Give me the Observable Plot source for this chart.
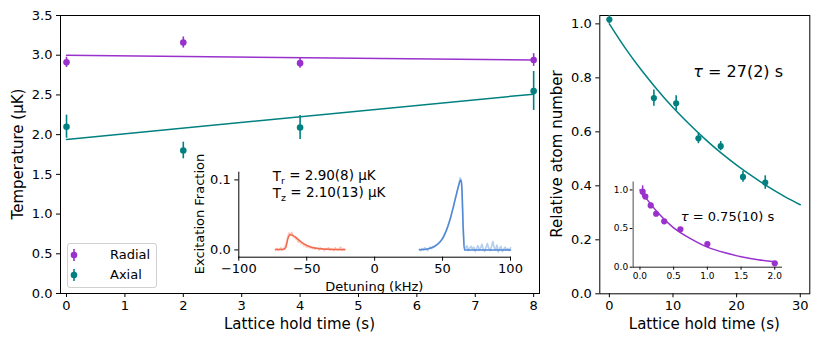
<!DOCTYPE html>
<html><head><meta charset="utf-8">
<script src="https://cdn.jsdelivr.net/npm/d3@7"></script>
<script src="https://cdn.jsdelivr.net/npm/@observablehq/plot@0.6"></script>
<style>
body{margin:0;background:#fff;font-family:"DejaVu Sans",sans-serif;}
#wrap{position:relative;width:822px;height:343px;overflow:hidden;background:#fff;}
#wrap svg{position:absolute;left:0;top:0;}
.lbl{position:absolute;white-space:nowrap;color:#000;font-family:"DejaVu Sans",sans-serif;line-height:1;}
.legend{position:absolute;left:67px;top:243px;width:88px;height:43px;border:1px solid #d0d0d0;border-radius:3px;background:rgba(255,255,255,0.85);font-family:"DejaVu Sans",sans-serif;font-size:13px;}
.legend .row{position:absolute;left:0;height:20px;width:88px;}
.legend svg{position:absolute;left:13px;top:0;}
.legend span{position:absolute;left:42px;top:2px;}
</style></head><body><div id="wrap"></div>
<script>
// ---------- Left panel: temperatures ----------
const holdTimes = [0, 2, 4, 8];
const radialTemp = [2.91, 3.16, 2.90, 2.94];
const radialErr = [0.065, 0.07, 0.065, 0.08];
const axialTemp = [2.10, 1.80, 2.09, 2.55];
const axialErr = [0.145, 0.105, 0.15, 0.245];
const fitTimes = [0, 8];
const radialFit = [3.00, 2.94];
const axialFit = [1.94, 2.51];
const leftXTicks = [0, 1, 2, 3, 4, 5, 6, 7, 8];
const leftYTicks = [0, 0.5, 1, 1.5, 2, 2.5, 3, 3.5];

// ---------- Left inset: sideband spectra ----------
const redFreq = [-73,-72,-71,-70,-69,-68,-67,-66,-65,-64,-63,-62,-61,-60,-59,-58,-57,-56,-55,-54,-53,-52,-51,-50,-49,-48,-47,-46,-45,-44,-43,-42,-41,-40,-39,-38,-37,-36,-35,-34,-33,-32,-31,-30,-29,-28,-27,-26,-25,-24,-23,-22];
const redData = [0.000,0.002,-0.001,0.001,0.003,0.000,0.002,0.004,0.010,0.018,0.024,0.022,0.025,0.019,0.018,0.016,0.015,0.011,0.013,0.009,0.010,0.006,0.008,0.004,0.006,0.003,0.005,0.002,0.004,0.001,0.003,0.002,0.000,0.003,0.001,0.002,-0.001,0.002,0.001,0.003,0.000,0.002,0.001,-0.001,0.003,0.001,0.000,0.002,0.004,0.000,0.002,0.001];
const redFitFreq = [-73,-68,-66,-65,-64,-63,-62,-60,-58,-55,-52,-50,-47,-45,-40,-35,-30,-22];
const redFit = [0.0005,0.0006,0.002,0.006,0.015,0.020,0.0215,0.0205,0.018,0.013,0.0085,0.0065,0.004,0.003,0.0015,0.0008,0.0005,0.0003];
const blueFreq = [33,34,35,36,37,38,39,40,41,42,43,44,45,46,47,48,49,50,51,52,53,54,55,56,57,58,59,60,61,62,63,64,65,66,67,68,69,70,71,72,73,74,75,76,77,78,79,80,81,82,83,84,85,86,87,88,89,90,91,92,93,94,95,96,97,98,99,100];
const blueData = [0.001,-0.001,0.002,0.000,0.003,0.001,-0.001,0.002,0.004,0.002,0.005,0.004,0.007,0.008,0.010,0.012,0.014,0.017,0.021,0.025,0.029,0.035,0.041,0.046,0.055,0.061,0.071,0.078,0.086,0.094,0.103,0.097,0.040,0.004,0.002,0.006,-0.001,0.003,0.005,0.001,0.004,-0.002,0.002,0.006,0.000,0.003,0.008,0.001,-0.002,0.004,0.009,0.002,-0.001,0.005,0.012,0.003,0.000,0.007,-0.003,0.002,0.005,-0.002,0.001,0.004,0.000,0.002,-0.001,0.003];
const blueFitFreq = [33,38,42,45,48,50,52,54,56,58,60,62,63,63.6,64.3,65.2,66,70,100];
const blueFit = [0.0003,0.001,0.003,0.006,0.011,0.016,0.024,0.034,0.047,0.062,0.078,0.093,0.099,0.100,0.085,0.030,0.000,0.000,0.000];
const insetXTicks = [-100, -50, 0, 50, 100];
const insetYTicks = [0, 0.1];

// ---------- Right panel: atom number ----------
const lossTimes = [0, 7, 10.5, 14, 17.5, 21, 24.5];
const atomNumber = [1.016, 0.725, 0.706, 0.576, 0.547, 0.433, 0.412];
const atomErr = [0.015, 0.03, 0.028, 0.02, 0.017, 0.02, 0.025];
const lossFitTimes = [0, 2.5, 5, 7.5, 10, 12.5, 15, 17.5, 20, 22.5, 25, 27.5, 30];
const lossFit = [1.0, 0.91, 0.83, 0.757, 0.69, 0.63, 0.574, 0.523, 0.477, 0.435, 0.396, 0.361, 0.33];
const rightXTicks = [0, 10, 20, 30];
const rightYTicks = [0, 0.2, 0.4, 0.6, 0.8, 1.0];

// ---------- Right inset: fast decay ----------
const fastTimes = [0.04, 0.08, 0.16, 0.24, 0.36, 0.6, 1.0, 2.0];
const fastNumber = [0.978, 0.914, 0.80, 0.692, 0.594, 0.491, 0.299, 0.051];
const fastErr = [0.075, 0.03, 0.03, 0.025, 0.02, 0.015, 0.015, 0.01];
const fastFitTimes = [0, 0.25, 0.5, 0.75, 1.0, 1.25, 1.5, 1.75, 2.0];
const fastFit = [1.0, 0.72, 0.51, 0.37, 0.26, 0.19, 0.135, 0.097, 0.07];
const fastXTicks = [0, 0.5, 1, 1.5, 2];
const fastYTicks = [0, 0.5, 1];

const purple = "#9932CC", teal = "#008080", redC = "#f2694e", blueC = "#5088d4";

const zip = (keys, ...arrs) => arrs[0].map((_, i) => Object.fromEntries(keys.map((k, j) => [k, arrs[j][i]])));
const radialRows = zip(["t","v","e"], holdTimes, radialTemp, radialErr);
const axialRows = zip(["t","v","e"], holdTimes, axialTemp, axialErr);
const fitRows = zip(["t","r","a"], fitTimes, radialFit, axialFit);
const redRows = zip(["f","v"], redFreq, redData);
const redFitRows = zip(["f","v"], redFitFreq, redFit);
const blueRows = zip(["f","v"], blueFreq, blueData);
const blueFitRows = zip(["f","v"], blueFitFreq, blueFit);
const lossRows = zip(["t","v","e"], lossTimes, atomNumber, atomErr);
const lossFitRows = zip(["t","v"], lossFitTimes, lossFit);
const fastRows = zip(["t","v","e"], fastTimes, fastNumber, fastErr);
const fastFitRows = zip(["t","v"], fastFitTimes, fastFit);

const st = (fs) => ({background: "transparent", fontFamily: "DejaVu Sans", fontSize: fs + "px", color: "#000", overflow: "visible"});
const W = 822, H = 343;

const errMarks = (rows, color, r, sw) => [
  Plot.ruleX(rows, {x: "t", y1: d => d.v - d.e, y2: d => d.v + d.e, stroke: color, strokeWidth: sw}),
  Plot.dot(rows, {x: "t", y: "v", r: r, fill: color, stroke: "none"})
];

const leftMain = Plot.plot({
  width: W, height: H, marginLeft: 60, marginRight: 283, marginTop: 15, marginBottom: 50,
  style: st(13),
  x: {domain: [-0.103, 8.1], ticks: leftXTicks, tickSize: 4, tickPadding: 3, label: null, tickFormat: d => String(d)},
  y: {domain: [0, 3.5], ticks: leftYTicks, tickSize: 4, tickPadding: 4, tickFormat: ".1f", label: null},
  marks: [
    Plot.frame({stroke: "#000", strokeWidth: 1}),
    Plot.line(fitRows, {x: "t", y: "r", stroke: purple, strokeWidth: 1.5}),
    Plot.line(fitRows, {x: "t", y: "a", stroke: teal, strokeWidth: 1.5}),
    ...errMarks(radialRows, purple, 3.3, 1.6),
    ...errMarks(axialRows, teal, 3.3, 1.6)
  ]
});

const leftInset = Plot.plot({
  width: W, height: H, marginLeft: 238.3, marginRight: 312, marginTop: 171.7, marginBottom: 86.3,
  style: st(13),
  x: {domain: [-100, 100], ticks: insetXTicks, tickSize: 4, tickPadding: 3, label: null},
  y: {domain: [-0.0104, 0.111], ticks: insetYTicks, tickSize: 4, tickPadding: 4, tickFormat: ".1f", label: null},
  marks: [
    Plot.frame({anchor: "left", stroke: "#000"}),
    Plot.frame({anchor: "bottom", stroke: "#000"}),
    Plot.line(redRows, {x: "f", y: "v", stroke: redC, strokeOpacity: 0.4, strokeWidth: 1.7}),
    Plot.line(blueRows, {x: "f", y: "v", stroke: blueC, strokeOpacity: 0.4, strokeWidth: 1.7}),
    Plot.line(redFitRows, {x: "f", y: "v", stroke: redC, strokeWidth: 1.5, curve: "monotone-x"}),
    Plot.line(blueFitRows, {x: "f", y: "v", stroke: blueC, strokeWidth: 1.5, curve: "monotone-x"}),
    Plot.text([{x: -75, y: 0.1046, s: "T_r = 2.90(8) μK"}, {x: -75, y: 0.0797, s: "T_z = 2.10(13) μK"}],
      {x: "x", y: "y", text: "s", textAnchor: "start", lineAnchor: "middle", fontSize: 13.5, fill: "#000"})
  ]
});

const rightMain = Plot.plot({
  width: W, height: H, marginLeft: 599.3, marginRight: 12.7, marginTop: 15, marginBottom: 49.7,
  style: st(13),
  x: {domain: [-1.5, 31.5], ticks: rightXTicks, tickSize: 4, tickPadding: 3, label: null},
  y: {domain: [0, 1.031], ticks: rightYTicks, tickSize: 4, tickPadding: 4, tickFormat: ".1f", label: null},
  marks: [
    Plot.frame({stroke: "#000", strokeWidth: 1}),
    Plot.line(lossFitRows, {x: "t", y: "v", stroke: teal, strokeWidth: 1.5, curve: "natural"}),
    ...errMarks(lossRows, teal, 3.1, 1.6),
    Plot.text([{x: 13.2, y: 0.821, s: "τ = 27(2) s"}], {x: "x", y: "y", text: "s", textAnchor: "start", lineAnchor: "middle", fontSize: 16, fill: "#000"})
  ]
});

const rightInset = Plot.plot({
  width: W, height: H, marginLeft: 632.7, marginRight: 41, marginTop: 181.7, marginBottom: 76.3,
  style: st(9),
  x: {domain: [-0.1, 2.1], ticks: fastXTicks, tickSize: 3, tickPadding: 2, tickFormat: ".1f", label: null},
  y: {domain: [0, 1.1], ticks: fastYTicks, tickSize: 3, tickPadding: 2, tickFormat: ".1f", label: null},
  marks: [
    Plot.frame({anchor: "left", stroke: "#888", strokeWidth: 1.5}),
    Plot.frame({anchor: "bottom", stroke: "#222"}),
    Plot.line(fastFitRows, {x: "t", y: "v", stroke: purple, strokeWidth: 1.5, curve: "natural"}),
    ...errMarks(fastRows, purple, 3.1, 1.5),
    Plot.text([{x: 0.605, y: 0.647, s: "τ = 0.75(10) s"}], {x: "x", y: "y", text: "s", textAnchor: "start", lineAnchor: "middle", fontSize: 13, fill: "#000"})
  ]
});

const wrap = document.getElementById("wrap");
[leftMain, leftInset, rightMain, rightInset].forEach(p => wrap.appendChild(p));

// subscripts and italic tau
wrap.querySelectorAll('g[aria-label="text"] text').forEach(t => {
  const s = t.textContent;
  if (!s.includes("_") && !s.includes("τ")) return;
  const sel = d3.select(t);
  sel.text(null);
  if (s.includes("_")) {
    const m = s.match(/^(.)_(.)(.*)$/);
    sel.append("tspan").text(m[1]);
    sel.append("tspan").attr("font-size", "0.7em").attr("dy", "0.3em").text(m[2]);
    sel.append("tspan").attr("dy", "-0.3em").text(m[3]);
  } else {
    sel.append("tspan").attr("font-style", "italic").text("τ");
    sel.append("tspan").text(s.slice(1));
  }
});

// axis labels and legend
function label(text, cx, cy, fs, rot) {
  const d = document.createElement("div");
  d.className = "lbl";
  d.textContent = text;
  d.style.left = cx + "px"; d.style.top = cy + "px"; d.style.fontSize = fs + "px";
  d.style.transform = "translate(-50%,-50%)" + (rot ? " rotate(-90deg)" : "");
  wrap.appendChild(d);
}
label("Temperature (μK)", 18, 154, 15, true);
label("Lattice hold time (s)", 299.5, 324, 15, false);
label("Relative atom number", 557, 154, 15, true);
label("Lattice hold time (s)", 704.3, 324, 15, false);
label("Excitation Fraction", 199, 214, 13, true);
label("Detuning (kHz)", 374.3, 285.5, 13, false);

const legendItems = ["Radial", "Axial"];
const legendColors = [purple, teal];
const lg = document.createElement("div");
lg.className = "legend";
legendItems.forEach((name, i) => {
  const row = document.createElement("div");
  row.className = "row";
  row.style.top = (1 + i * 20) + "px";
  row.innerHTML = `<svg width="12" height="20"><line x1="6" x2="6" y1="4" y2="16" stroke="${legendColors[i]}" stroke-width="1.6"/><circle cx="6" cy="10" r="3.3" fill="${legendColors[i]}"/></svg><span>${name}</span>`;
  lg.appendChild(row);
});
wrap.appendChild(lg);
</script></body></html>
